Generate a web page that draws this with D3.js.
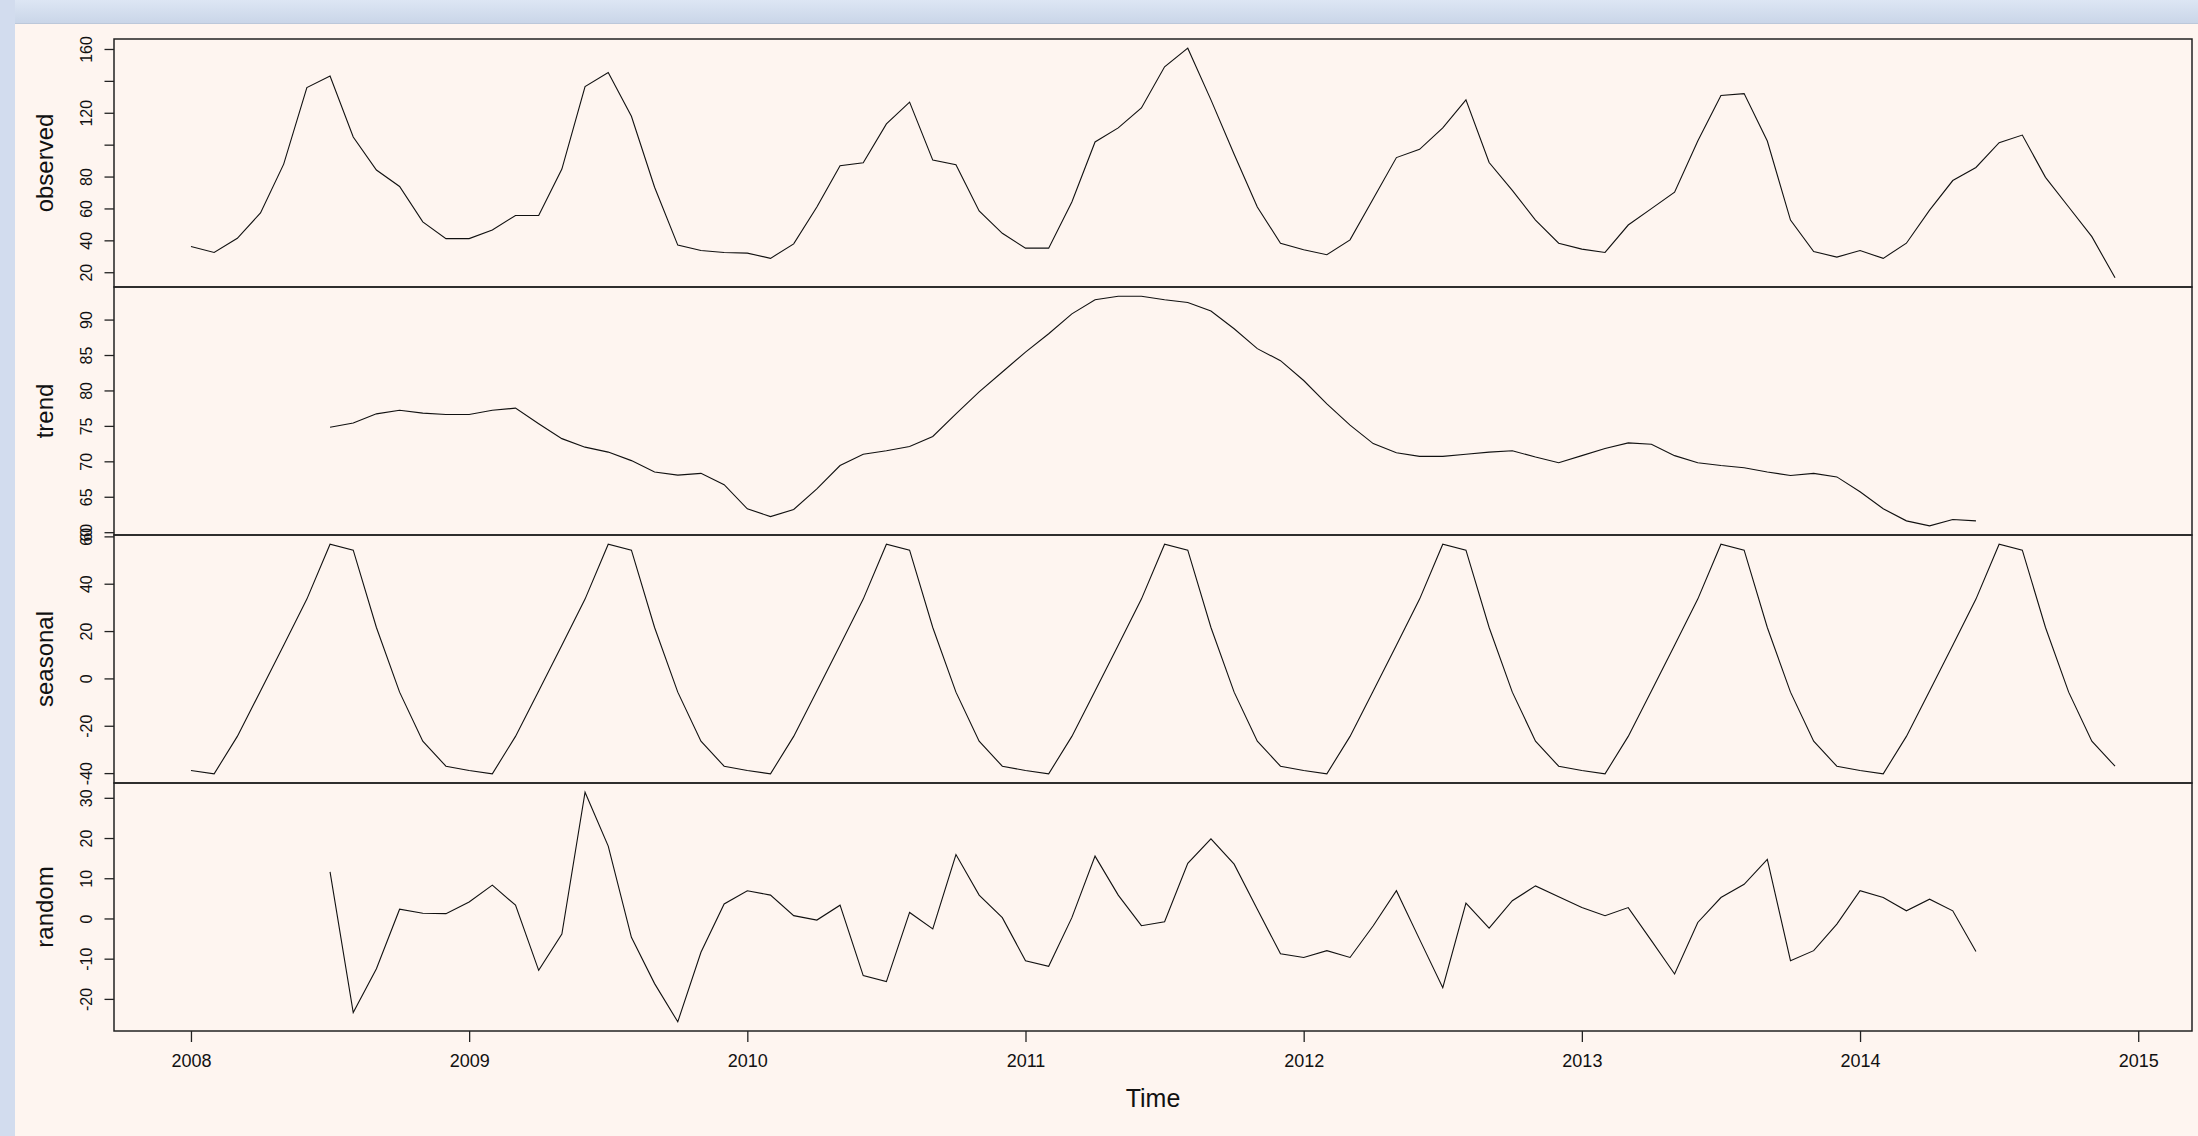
<!DOCTYPE html>
<html>
<head>
<meta charset="utf-8">
<script src="https://cdn.jsdelivr.net/npm/d3@7"></script>
<style>
html, body { margin: 0; padding: 0; background: #fef5f0; overflow: hidden; }
svg { display: block; }
</style>
</head>
<body>
<svg id="chart" width="2198" height="1136"></svg>
<script>
// ---------------- DATA (monthly, Jan 2008 .. Dec 2014) ----------------
const startYear = 2008;
const frequency = 12;

const observed = [
  36.1, 32.4, 41.3, 57.2, 87.8, 135.8, 143.0, 104.8, 84.1, 73.8, 51.6, 41.1,
  41.1, 46.5, 55.6, 55.6, 84.7, 136.4, 145.3, 117.8, 73.3, 37.0, 33.6, 32.4,
  32.0, 28.7, 37.8, 60.9, 86.8, 88.7, 113.0, 126.7, 90.3, 87.4, 58.4, 44.4,
  35.1, 35.1, 64.0, 101.7, 110.5, 123.0, 148.8, 160.5, 128.1, 94.0, 60.9, 38.2,
  34.1, 31.0, 40.3, 66.1, 91.9, 97.1, 110.5, 128.1, 88.8, 71.3, 52.7, 38.2,
  34.5, 32.4, 49.6, 59.9, 70.2, 102.3, 130.8, 132.0, 102.3, 52.7, 33.0, 29.5,
  33.6, 28.7, 38.2, 58.9, 77.5, 85.7, 101.2, 106.0, 79.5, 60.9, 42.3, 16.5
];

const trend = [
  null, null, null, null, null, null, 74.8, 75.4, 76.7, 77.2, 76.8, 76.6,
  76.6, 77.2, 77.5, 75.3, 73.2, 72.0, 71.3, 70.1, 68.5, 68.05, 68.3, 66.7,
  63.3, 62.2, 63.2, 66.1, 69.4, 71.0, 71.5, 72.1, 73.5, 76.7, 79.8, 82.6,
  85.4, 88.0, 90.8, 92.8, 93.3, 93.3, 92.8, 92.4, 91.2, 88.7, 85.9, 84.2,
  81.4, 78.1, 75.1, 72.5, 71.2, 70.7, 70.7, 71.0, 71.3, 71.5, 70.6, 69.8,
  70.8, 71.8, 72.6, 72.4, 70.8, 69.8, 69.4, 69.1, 68.5, 68.0, 68.3, 67.8,
  65.7, 63.3, 61.6, 60.9, 61.8, 61.6, null, null, null, null, null, null
];

const seasonal = [
  -38.9, -40.3, -24.5, -5.3, 14.0, 33.5, 56.7, 54.2, 21.5, -5.8, -26.5, -37.1,
  -38.9, -40.3, -24.5, -5.3, 14.0, 33.5, 56.7, 54.2, 21.5, -5.8, -26.5, -37.1,
  -38.9, -40.3, -24.5, -5.3, 14.0, 33.5, 56.7, 54.2, 21.5, -5.8, -26.5, -37.1,
  -38.9, -40.3, -24.5, -5.3, 14.0, 33.5, 56.7, 54.2, 21.5, -5.8, -26.5, -37.1,
  -38.9, -40.3, -24.5, -5.3, 14.0, 33.5, 56.7, 54.2, 21.5, -5.8, -26.5, -37.1,
  -38.9, -40.3, -24.5, -5.3, 14.0, 33.5, 56.7, 54.2, 21.5, -5.8, -26.5, -37.1,
  -38.9, -40.3, -24.5, -5.3, 14.0, 33.5, 56.7, 54.2, 21.5, -5.8, -26.5, -37.1
];

const random = [
  null, null, null, null, null, null, 11.6, -23.4, -12.5, 2.3, 1.3, 1.2,
  4.1, 8.3, 3.3, -12.9, -3.9, 31.4, 18.0, -4.7, -16.2, -25.7, -8.4, 3.6,
  6.9, 5.8, 0.7, -0.4, 3.3, -14.2, -15.7, 1.5, -2.6, 15.9, 5.8, 0.2,
  -10.5, -11.9, 0.2, 15.5, 5.8, -1.8, -0.8, 13.7, 19.8, 13.5, 2.3, -8.8,
  -9.7, -8.0, -9.7, -1.8, 6.9, -5.2, -17.2, 3.8, -2.4, 4.4, 8.1, 5.4,
  2.7, 0.7, 2.7, -5.5, -13.8, -1.0, 5.2, 8.5, 14.7, -10.5, -8.0, -1.4,
  6.9, 5.2, 1.9, 4.8, 1.9, -8.2, null, null, null, null, null, null
];

const panelNames = ["observed", "trend", "seasonal", "random"];

const observedTicks = [20, 40, 60, 80, 100, 120, 140, 160];
const observedTickLabels = ["20", "40", "60", "80", "", "120", "", "160"];
const trendTicks = [60, 65, 70, 75, 80, 85, 90];
const trendTickLabels = ["60", "65", "70", "75", "80", "85", "90"];
const seasonalTicks = [-40, -20, 0, 20, 40, 60];
const seasonalTickLabels = ["-40", "-20", "0", "20", "40", "60"];
const randomTicks = [-20, -10, 0, 10, 20, 30];
const randomTickLabels = ["-20", "-10", "0", "10", "20", "30"];

const yearTicks = [2008, 2009, 2010, 2011, 2012, 2013, 2014, 2015];
const xTitle = "Time";

// ---------------- LAYOUT ----------------
const W = 2198, H = 1136;
const plotLeft = 114, plotRight = 2192;
const plotTop = 39, panelH = 248;
const fontFamily = "'Liberation Sans', Arial, Helvetica, sans-serif";

const svg = d3.select("#chart");

// backgrounds
const defs = svg.append("defs");
const grad = defs.append("linearGradient").attr("id", "topband")
  .attr("x1", 0).attr("y1", 0).attr("x2", 0).attr("y2", 1);
grad.append("stop").attr("offset", "0%").attr("stop-color", "#dde6f4");
grad.append("stop").attr("offset", "100%").attr("stop-color", "#c9d5e8");

svg.append("rect").attr("x", 0).attr("y", 0).attr("width", W).attr("height", H).attr("fill", "#fef5f0");
svg.append("rect").attr("x", 0).attr("y", 0).attr("width", W).attr("height", 24).attr("fill", "url(#topband)");
svg.append("rect").attr("x", 0).attr("y", 0).attr("width", 15).attr("height", H).attr("fill", "#d2dcee");
svg.append("line").attr("x1", 15).attr("x2", W).attr("y1", 23.5).attr("y2", 23.5).attr("stroke", "#bcc8da").attr("stroke-width", 1);

// time index
const times = observed.map((_, i) => startYear + i / frequency);
const tExt = d3.extent(times);
const tPad = 0.04 * (tExt[1] - tExt[0]);
const x = d3.scaleLinear().domain([tExt[0] - tPad, tExt[1] + tPad]).range([plotLeft, plotRight]);

const series = [observed, trend, seasonal, random];
const ticksList = [observedTicks, trendTicks, seasonalTicks, randomTicks];
const labelsList = [observedTickLabels, trendTickLabels, seasonalTickLabels, randomTickLabels];

series.forEach((vals, p) => {
  const top = plotTop + p * panelH;
  const bottom = top + panelH;
  const defined = vals.filter(v => v !== null);
  const ext = d3.extent(defined);
  const pad = 0.04 * (ext[1] - ext[0]);
  const y = d3.scaleLinear().domain([ext[0] - pad, ext[1] + pad]).range([bottom, top]);

  const g = svg.append("g").attr("class", "panel-" + panelNames[p]);

  // data line
  const line = d3.line()
    .defined(d => d.v !== null)
    .x(d => x(d.t))
    .y(d => y(d.v));
  g.append("path")
    .datum(vals.map((v, i) => ({ t: times[i], v: v })))
    .attr("d", line)
    .attr("fill", "none")
    .attr("stroke", "#111")
    .attr("stroke-width", 1.1)
    .attr("stroke-linejoin", "miter");

  // y axis
  const labels = labelsList[p];
  const ticks = ticksList[p];
  const ax = g.append("g").attr("transform", `translate(${plotLeft},0)`)
    .call(d3.axisLeft(y).tickValues(ticks).tickSize(9.5)
      .tickFormat((d, i) => labels[i]));
  ax.select(".domain").remove();
  ax.selectAll(".tick line").attr("stroke", "#222").attr("stroke-width", 1.3);
  ax.selectAll(".tick text")
    .attr("transform", "rotate(-90)")
    .attr("x", 0)
    .attr("y", -22)
    .attr("dy", 0)
    .attr("text-anchor", "middle")
    .attr("fill", "#111")
    .style("font-family", fontFamily)
    .style("font-size", "16px");

  // panel title (ylab)
  g.append("text")
    .attr("transform", `translate(53,${(top + bottom) / 2}) rotate(-90)`)
    .attr("text-anchor", "middle")
    .attr("fill", "#111")
    .style("font-family", fontFamily)
    .style("font-size", "24px")
    .text(panelNames[p]);

  // panel box
  g.append("rect")
    .attr("x", plotLeft).attr("y", top)
    .attr("width", plotRight - plotLeft).attr("height", panelH)
    .attr("fill", "none").attr("stroke", "#222").attr("stroke-width", 1.5);

  // bottom x axis on last panel
  if (p === series.length - 1) {
    const xa = svg.append("g").attr("transform", `translate(0,${bottom})`)
      .call(d3.axisBottom(x).tickValues(yearTicks).tickSize(11).tickFormat(d3.format("d")));
    xa.select(".domain").remove();
    xa.selectAll(".tick line").attr("stroke", "#222").attr("stroke-width", 1.3);
    xa.selectAll(".tick text")
      .attr("y", 36)
      .attr("dy", 0)
      .attr("fill", "#111")
      .style("font-family", fontFamily)
      .style("font-size", "18px");
    svg.append("text")
      .attr("x", (plotLeft + plotRight) / 2)
      .attr("y", bottom + 76)
      .attr("text-anchor", "middle")
      .attr("fill", "#111")
      .style("font-family", fontFamily)
      .style("font-size", "25px")
      .text(xTitle);
  }
});
</script>
</body>
</html>
